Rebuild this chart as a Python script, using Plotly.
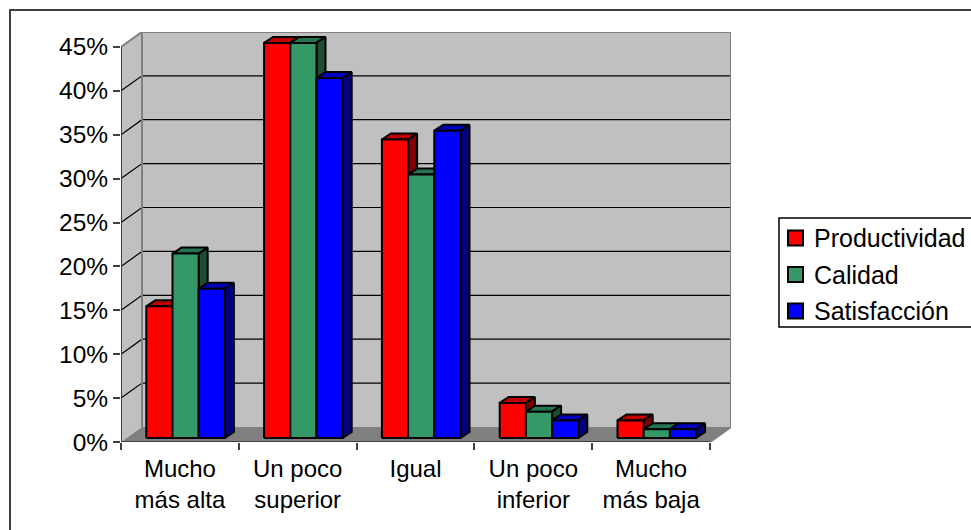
import plotly.graph_objects as go

# Survey results by answer category (percent)
categories = ["Mucho<br>más alta", "Un poco<br>superior", "Igual", "Un poco<br>inferior", "Mucho<br>más baja"]
productividad = [15, 45, 34, 4, 2]
calidad = [21, 45, 30, 3, 1]
satisfaccion = [17, 41, 35, 2, 1]
y_ticks = [0, 5, 10, 15, 20, 25, 30, 35, 40, 45]

series = [
    ("Productividad", productividad, "#FF0000", "#BF0000", "#800000"),
    ("Calidad", calidad, "#339966", "#267350", "#1A4D33"),
    ("Satisfacción", satisfaccion, "#0000FF", "#0000BF", "#000080"),
]

# Pixel scale of the plot area, used to express the oblique projection in axis units
CAT_PX = 117.8
PCT_PX = 8.78
WALL_DX, WALL_DY = 21 / CAT_PX, 15 / PCT_PX      # floor depth
PLANE_DX, PLANE_DY = 5.7 / CAT_PX, 4 / PCT_PX    # front plane of the bars
BAR_DX, BAR_DY = 9 / CAT_PX, 6 / PCT_PX          # bar depth
BAR_W = 26.2 / CAT_PX

n = len(categories)
top = max(y_ticks)
fig = go.Figure()


def polygons(xs, ys, fill, line=None, width=0):
    fig.add_trace(go.Scatter(
        x=xs, y=ys, mode="lines", fill="toself", fillcolor=fill,
        line=dict(color=line or fill, width=width), hoverinfo="skip",
        showlegend=False, cliponaxis=False,
    ))


def lines(xs, ys, color, width):
    fig.add_trace(go.Scatter(
        x=xs, y=ys, mode="lines", line=dict(color=color, width=width),
        hoverinfo="skip", showlegend=False, cliponaxis=False,
    ))


# Walls and floor
polygons([WALL_DX, n + WALL_DX, n + WALL_DX, WALL_DX, WALL_DX],
         [WALL_DY, WALL_DY, top + WALL_DY, top + WALL_DY, WALL_DY], "#C0C0C0")
polygons([0, WALL_DX, WALL_DX, 0, 0],
         [0, WALL_DY, top + WALL_DY, top, 0], "#C0C0C0")
polygons([0, n, n + WALL_DX, WALL_DX, 0],
         [0, 0, WALL_DY, WALL_DY, 0], "#808080")

# Gridlines run along the side wall and across the back wall
grid_x, grid_y = [], []
for t in y_ticks[1:-1]:
    grid_x += [0, WALL_DX, n + WALL_DX, None]
    grid_y += [t, t + WALL_DY, t + WALL_DY, None]
lines(grid_x, grid_y, "#000000", 1.2)

# Wall outlines
lines([WALL_DX, WALL_DX, None, WALL_DX, n + WALL_DX, n + WALL_DX, None, 0, WALL_DX, None, n, n + WALL_DX],
      [WALL_DY, top + WALL_DY, None, top + WALL_DY, top + WALL_DY, WALL_DY, None, top, top + WALL_DY, None, 0, WALL_DY],
      "#808080", 2)

# Axis lines of the front plane
lines([0, 0, None, 0, n], [top, 0, None, 0, 0], "#404040", 2)

# Bars: each series gets its top, side and front faces, drawn left to right
group_gap = (1 - 3 * BAR_W) / 2
for s, (name, values, front, top_col, side) in enumerate(series):
    fx, fy, tx, ty, sx, sy = [], [], [], [], [], []
    for c, v in enumerate(values):
        x0 = c + PLANE_DX + group_gap + s * BAR_W
        x1 = x0 + BAR_W
        y0 = PLANE_DY
        y1 = PLANE_DY + v
        fx += [x0, x1, x1, x0, x0, None]
        fy += [y0, y0, y1, y1, y0, None]
        tx += [x0, x1, x1 + BAR_DX, x0 + BAR_DX, x0, None]
        ty += [y1, y1, y1 + BAR_DY, y1 + BAR_DY, y1, None]
        sx += [x1, x1 + BAR_DX, x1 + BAR_DX, x1, x1, None]
        sy += [y0, y0 + BAR_DY, y1 + BAR_DY, y1, y0, None]
    polygons(tx, ty, top_col, "#000000", 2)
    polygons(sx, sy, side, "#000000", 2)
    polygons(fx, fy, front, "#000000", 2)

FAMILY = "Liberation Sans, Arial, sans-serif"
LEGEND_FONT = dict(family=FAMILY, size=25, color="#000000")
Y_FONT = dict(family=FAMILY, size=24.5, color="#000000")
X_FONT = dict(family=FAMILY, size=24, color="#000000")

# Chart frame and legend box with its swatches and labels
shapes = [
    dict(type="rect", xref="paper", yref="paper", x0=-111 / 610, x1=900 / 610,
         y0=-150 / 410, y1=432 / 410, line=dict(color="#404040", width=2), layer="below"),
    dict(type="rect", xref="paper", yref="paper", x0=658 / 610, x1=860 / 610,
         y0=115 / 410, y1=224 / 410, line=dict(color="#000000", width=1.5),
         fillcolor="#FFFFFF", layer="below"),
]
annotations = []
for i, (name, _, front, _, _) in enumerate(series):
    cy = (442 - 238 - i * 36.5) / 410
    shapes.append(dict(type="rect", xref="paper", yref="paper",
                       x0=667 / 610, x1=682 / 610,
                       y0=cy - 7.5 / 410, y1=cy + 7.5 / 410,
                       fillcolor=front, line=dict(color="#000000", width=2)))
    annotations.append(dict(text=name, xref="paper", yref="paper", x=690.5 / 610, y=cy,
                            xanchor="left", yanchor="middle", showarrow=False,
                            font=LEGEND_FONT))

fig.update_layout(
    width=971, height=530, autosize=False,
    margin=dict(l=121, r=240, t=32, b=88, pad=0),
    paper_bgcolor="#FFFFFF", plot_bgcolor="rgba(0,0,0,0)",
    showlegend=False, font=Y_FONT, shapes=shapes, annotations=annotations,
    xaxis=dict(
        range=[0, 610 / CAT_PX], showgrid=False, zeroline=False, showline=False,
        tickmode="array", tickvals=[c + 0.5 for c in range(n)], ticktext=categories,
        ticks="", ticklabelstandoff=10, tickfont=X_FONT,
        minor=dict(tickmode="array", tickvals=list(range(n + 1)), ticks="outside",
                   ticklen=7, tickwidth=1.5, tickcolor="#404040", showgrid=False),
    ),
    yaxis=dict(
        range=[0, 410 / PCT_PX], showgrid=False, zeroline=False, showline=False,
        tickmode="array", tickvals=y_ticks, ticktext=[f"{t}%" for t in y_ticks],
        ticks="outside", ticklen=7, tickwidth=1.5, tickcolor="#404040",
        tickfont=Y_FONT, ticklabelstandoff=0,
    ),
)

fig.write_html("out.html")
